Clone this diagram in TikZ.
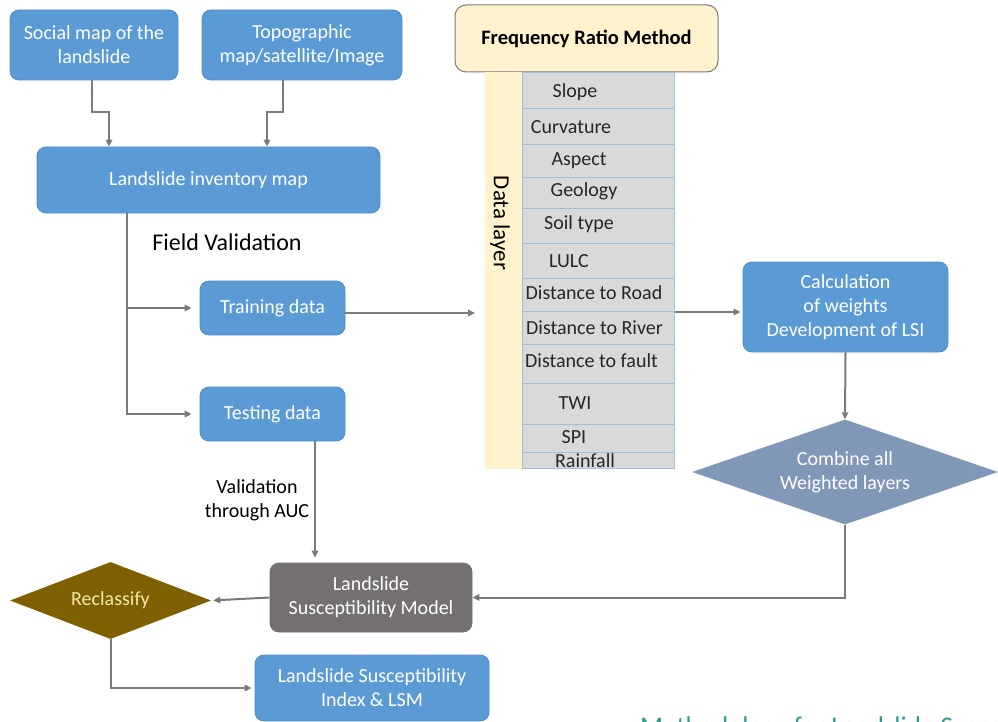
\documentclass[tikz,border=0pt]{standalone}
\usepackage{fontspec}
\setmainfont{Carlito}
\usetikzlibrary{arrows.meta,shapes.geometric}

\definecolor{boxblue}{HTML}{5B9BD5}
\definecolor{boxedge}{HTML}{4F8BC6}
\definecolor{modelgray}{HTML}{747070}
\definecolor{diamblue}{HTML}{8097B8}
\definecolor{olive}{HTML}{7F6000}
\definecolor{cream}{HTML}{F5E6A8}
\definecolor{paleyellow}{HTML}{FFF2CC}
\definecolor{cellgray}{HTML}{D9D9D9}
\definecolor{cellline}{HTML}{9DBFE0}
\definecolor{arrowgray}{HTML}{7A7A7A}
\definecolor{teal}{HTML}{2A9D8F}

\tikzset{
  bluebox/.style={rectangle, rounded corners=9pt, fill=boxblue, draw=boxedge, line width=0.8pt,
    text=white, align=center, inner sep=0pt, font=\fontsize{20}{24}\selectfont},
  graybox/.style={bluebox, fill=modelgray, draw=modelgray},
  conn/.style={draw=arrowgray, line width=2pt},
  arr/.style={conn, -{Triangle[length=7pt,width=6.5pt]}},
  rowcell/.style={rectangle, fill=cellgray, draw=cellline, line width=1pt, inner sep=0pt,
    minimum width=152pt},
  rowtext/.style={inner sep=0pt, font=\fontsize{20}{22}\selectfont, text=black!85},
  plain/.style={inner sep=0pt, align=center, text=black, font=\fontsize{20}{24}\selectfont},
}

\begin{document}
\begin{tikzpicture}[x=1pt, y=-1pt]
\useasboundingbox (0,0) rectangle (998,722);

% --- input maps and inventory ---
\node[bluebox, minimum width=168pt, minimum height=70pt] (social) at (94,45)
  {Social map of the\\landslide};
\node[bluebox, minimum width=200pt, minimum height=70pt] (topo) at (302,45)
  {Topographic\\map/satellite/Image};
\node[bluebox, minimum width=343pt, minimum height=66pt] (inv) at (208.5,180)
  {Landslide inventory map};

\draw[arr] ([xshift=-2pt]social.south) -- ++(0,32) -| ([xshift=-99.5pt]inv.north);
\draw[arr] ([xshift=-19pt]topo.south) -- ++(0,32) -| ([xshift=58.5pt]inv.north);

\node[plain, font=\fontsize{24}{28}\selectfont] (fieldval) at (227,242) {Field Validation};

% --- training / testing split ---
\node[bluebox, minimum width=145pt, minimum height=54pt] (train) at (272.5,308) {Training data};
\node[bluebox, minimum width=145pt, minimum height=54pt] (test) at (272.5,414) {Testing data};

\coordinate (trunk) at ([xshift=-81.5pt]inv.south);
\draw[arr, shorten >=8pt] (trunk) |- (test.west);
\draw[arr, shorten >=8pt] (trunk |- train.west) -- (train.west);

% --- frequency ratio method and data layers ---
\node[rectangle, rounded corners=11pt, fill=paleyellow, draw=arrowgray, line width=1pt,
      minimum width=263pt, minimum height=67pt, inner sep=0pt,
      font=\bfseries\fontsize{20.5}{24}\selectfont] (frm) at (586.5,38.5) {Frequency Ratio Method};
\node[rectangle, fill=paleyellow, inner sep=0pt, minimum width=37pt, minimum height=397pt,
      anchor=north west] (strip) at (485,72) {};
\node[rotate=-90, inner sep=0pt, font=\fontsize{23}{26}\selectfont] (dlabel) at (500,223) {Data layer};

\foreach \top/\bot [count=\i] in {72/108,108/144,144/177,177/208,208/243,243/278,
                                  278/311,311/344,344/383,383/424,424/452,452/468}{
  \node[rowcell, anchor=north west, minimum height={\bot-\top}] (row\i) at (522,\top) {};
}
\foreach \txt/\cx/\cy in {Slope/575/92, Curvature/571/127, Aspect/579/161, Geology/584/191,
    Soil type/579/224, LULC/569/261, Distance to Road/594/293, Distance to River/594.5/328,
    Distance to fault/591.5/361, TWI/575/403, SPI/574/437, Rainfall/585/461}{
  \node[rowtext] at (\cx,\cy) {\txt};
}

\draw[arr, shorten >=10pt] ([yshift=-5pt]train.east) -- ([yshift=-5pt]train.east -| strip.west);

% --- weights and combination ---
\node[bluebox, minimum width=205pt, minimum height=90pt] (calc) at (845.5,307)
  {Calculation\\of weights\\Development of LSI};
\draw[arr, shorten >=2pt] ([yshift=-5pt]calc.west -| row7.east) -- ([yshift=-5pt]calc.west);

\node[diamond, fill=diamblue, minimum width=306pt, minimum height=105pt, aspect=2.9,
      inner sep=0pt, text=white, align=center, font=\fontsize{20}{24}\selectfont] (combine)
  at (845,472) {Combine all\\Weighted layers};
\draw[arr] (calc.south) -- (combine.north);

% --- model, reclassification and output ---
\node[graybox, minimum width=202pt, minimum height=69pt] (lsm) at (371,597.5)
  {Landslide\\Susceptibility Model};
\draw[arr] (combine.south) |- (lsm.east);

\draw[arr, shorten >=5pt] ([xshift=42.5pt]test.south) -- ([xshift=42.5pt]test.south |- lsm.north);
\node[plain] (auc) at (257,500) {Validation\\through AUC};

\node[diamond, fill=olive, minimum width=201pt, minimum height=77pt, aspect=2.6, inner sep=0pt,
      text=cream, font=\fontsize{20}{22}\selectfont] (reclass) at (110.5,600.5) {Reclassify};
\draw[arr, shorten >=2pt] (lsm.west) -- (reclass.east);

\node[bluebox, minimum width=234pt, minimum height=66pt] (lsi) at (372,688)
  {Landslide Susceptibility\\Index \& LSM};
\draw[arr, shorten >=3pt] (reclass.south) |- (lsi.west);

% --- caption, running past the lower page edge ---
\node[anchor=base west, inner sep=0pt, text=teal, font=\fontsize{27}{30}\selectfont] (caption)
  at (640,735) {Methodology for Landslide Susceptibility};
\end{tikzpicture}
\end{document}
